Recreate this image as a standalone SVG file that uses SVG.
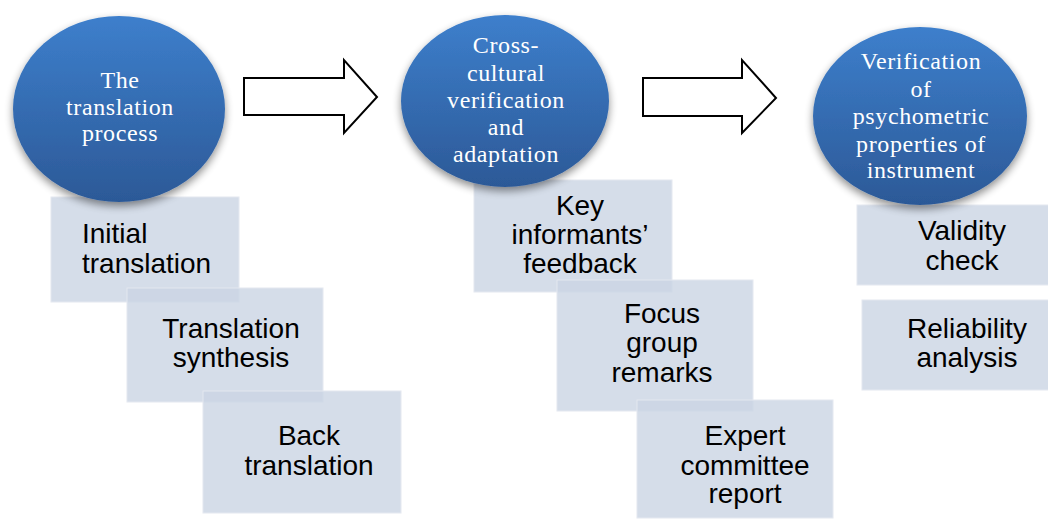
<svg xmlns="http://www.w3.org/2000/svg" width="1048" height="522" viewBox="0 0 1048 522">
<defs>
<linearGradient id="blue" x1="0" y1="0" x2="0" y2="1">
<stop offset="0" stop-color="#3d7fcc"/>
<stop offset="1" stop-color="#2c5997"/>
</linearGradient>
<filter id="sh" x="-20%" y="-20%" width="140%" height="150%">
<feGaussianBlur in="SourceAlpha" stdDeviation="4"/>
<feOffset dy="4" result="b"/>
<feComponentTransfer><feFuncA type="linear" slope="0.45"/></feComponentTransfer>
<feMerge><feMergeNode/><feMergeNode in="SourceGraphic"/></feMerge>
</filter>
<style>
.box{fill:rgb(203,212,227);fill-opacity:0.8;stroke:#e4e8f0;stroke-width:1}
.oval{fill:url(#blue);filter:url(#sh)}
.ot{font-family:"Liberation Serif","Times New Roman",serif;font-size:24px;letter-spacing:0.6px;fill:#ffffff;text-anchor:middle}
.bt{font-family:"Liberation Sans",Arial,sans-serif;font-size:28px;fill:#000000;text-anchor:middle}
.arr{fill:#ffffff;stroke:#000000;stroke-width:2;stroke-linejoin:miter}
</style>
</defs>
<rect width="1048" height="522" fill="#ffffff"/>

<g id="box-initial"><rect class="box" x="51" y="197" width="188" height="105"/>
<text class="bt" style="text-anchor:start" x="82" y="243">Initial</text><text class="bt" style="text-anchor:start" x="82" y="273">translation</text></g>
<g id="box-synthesis"><rect class="box" x="127" y="288" width="196" height="114"/>
<text class="bt" x="231" y="338">Translation</text><text class="bt" x="231" y="367">synthesis</text></g>
<g id="box-back"><rect class="box" x="203" y="391" width="198" height="122"/>
<text class="bt" x="309" y="445">Back</text><text class="bt" x="309" y="475">translation</text></g>

<g id="box-key"><rect class="box" x="474" y="180" width="198" height="112"/>
<text class="bt" x="580" y="215">Key</text><text class="bt" x="580" y="244">informants’</text><text class="bt" x="580" y="273">feedback</text></g>
<g id="box-focus"><rect class="box" x="557" y="280" width="196" height="131"/>
<text class="bt" x="662" y="323">Focus</text><text class="bt" x="662" y="352">group</text><text class="bt" x="662" y="382">remarks</text></g>
<g id="box-expert"><rect class="box" x="637" y="400" width="196" height="118"/>
<text class="bt" x="745" y="445">Expert</text><text class="bt" x="745" y="475">committee</text><text class="bt" x="745" y="503">report</text></g>

<g id="box-validity"><rect class="box" x="857" y="205" width="195" height="80"/>
<text class="bt" x="962" y="240">Validity</text><text class="bt" x="962" y="270">check</text></g>
<g id="box-reliability"><rect class="box" x="862" y="300" width="190" height="90"/>
<text class="bt" x="967" y="338">Reliability</text><text class="bt" x="967" y="367">analysis</text></g>

<g id="oval-translation"><ellipse class="oval" cx="119" cy="109" rx="106" ry="93"/>
<text class="ot" x="120" y="88">The</text><text class="ot" x="120" y="115">translation</text><text class="ot" x="120" y="141">process</text></g>
<g id="oval-crosscultural"><ellipse class="oval" cx="505" cy="101" rx="104" ry="86"/>
<text class="ot" x="506" y="53">Cross-</text><text class="ot" x="506" y="81">cultural</text><text class="ot" x="506" y="108">verification</text><text class="ot" x="506" y="135">and</text><text class="ot" x="506" y="162">adaptation</text></g>
<g id="oval-psychometric"><ellipse class="oval" cx="920" cy="116" rx="107" ry="89"/>
<text class="ot" x="921" y="69">Verification</text><text class="ot" x="921" y="97">of</text><text class="ot" x="921" y="124">psychometric</text><text class="ot" x="921" y="152">properties of</text><text class="ot" x="921" y="178">instrument</text></g>

<g id="connectors">
<path class="arr" d="M244,78 H344 V60 L377,97 L344,133 V115 H244 Z"/>
<path class="arr" d="M643,78 H742 V60 L776,98 L742,133 V116 H643 Z"/>
</g>
</svg>
